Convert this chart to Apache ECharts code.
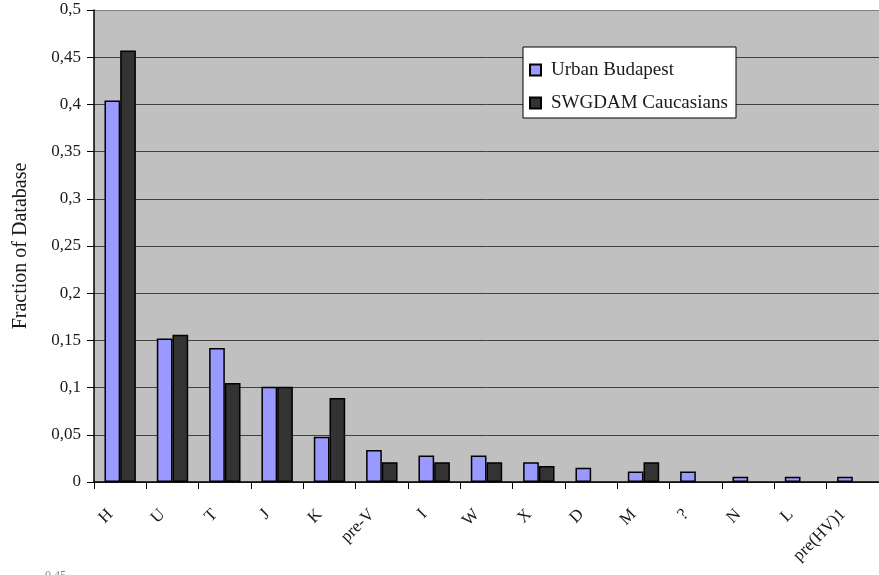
<!DOCTYPE html>
<html>
<head>
<meta charset="utf-8">
<script src="https://cdn.jsdelivr.net/npm/echarts@6/dist/echarts.min.js"></script>
<style>
  html, body { margin: 0; padding: 0; background: #ffffff; }
  #chart { width: 879px; height: 575px; }
</style>
</head>
<body>
<div id="chart"></div>
<script>
// Haplogroup frequencies in two mtDNA databases
const haplogroups = ['H', 'U', 'T', 'J', 'K', 'pre-V', 'I', 'W', 'X', 'D', 'M', '?', 'N', 'L', 'pre(HV)1'];
const urbanBudapest = [0.404, 0.152, 0.142, 0.101, 0.048, 0.034, 0.028, 0.028, 0.021, 0.015, 0.011, 0.011, 0.0055, 0.0055, 0.0055];
const swgdamCaucasians = [0.457, 0.156, 0.105, 0.101, 0.089, 0.021, 0.021, 0.021, 0.017, null, 0.021, null, null, null, null];
const seriesNames = ['Urban Budapest', 'SWGDAM Caucasians'];
const yAxisTitle = 'Fraction of Database';

const serif = '"Liberation Serif", "Times New Roman", serif';

function commaDecimal(v) {
  const r = Math.round(v * 100) / 100;
  return String(r).replace('.', ',');
}

const chart = echarts.init(document.getElementById('chart'), null, { renderer: 'canvas' });

// gridlines: dark inside the plot, lighter at the top border
const splitColors = ['#404040', '#404040', '#404040', '#404040', '#404040',
                     '#404040', '#404040', '#404040', '#404040', '#404040', '#808080'];

chart.setOption({
  animation: false,
  backgroundColor: '#ffffff',
  grid: {
    left: 94, right: 0, top: 10, bottom: 93,
    show: true, backgroundColor: '#c0c0c0', borderWidth: 0,
    containLabel: false
  },
  legend: {
    data: seriesNames,
    orient: 'vertical',
    left: 523, top: 47,
    backgroundColor: '#ffffff',
    borderColor: '#000000', borderWidth: 1,
    padding: [13, 5, 5, 6],
    itemGap: 13,
    itemWidth: 11, itemHeight: 11,
    icon: 'rect',
    selectedMode: false,
    textStyle: {
      fontFamily: serif, fontSize: 19, color: '#1a1a1a',
      lineHeight: 20, width: 180, padding: [0, 0, 0, 5]
    }
  },
  xAxis: {
    type: 'category',
    data: haplogroups,
    axisLine: { lineStyle: { color: '#000000', width: 1.5 } },
    axisTick: { show: true, length: 7, lineStyle: { color: '#000000', width: 1 } },
    axisLabel: {
      rotate: 45, interval: 0, margin: 20,
      fontFamily: serif, fontSize: 17, color: '#1a1a1a',
      padding: [0, 14, 0, 0]
    }
  },
  yAxis: {
    type: 'value',
    min: 0, max: 0.5, interval: 0.05,
    name: yAxisTitle,
    nameLocation: 'middle',
    nameGap: 63,
    nameRotate: 90,
    nameTextStyle: { fontFamily: serif, fontSize: 20, color: '#1a1a1a' },
    axisLine: { show: true, lineStyle: { color: '#000000', width: 1.5 } },
    axisTick: { show: true, length: 7, lineStyle: { color: '#000000', width: 1 } },
    axisLabel: {
      margin: 13, fontFamily: serif, fontSize: 17, color: '#1a1a1a',
      formatter: commaDecimal
    },
    splitLine: { show: true, lineStyle: { color: splitColors, width: 1 } }
  },
  series: [
    {
      name: seriesNames[0], type: 'bar', data: urbanBudapest,
      barGap: '0%', barCategoryGap: '40%',
      itemStyle: { color: '#9999ff', borderColor: '#000000', borderWidth: 1.5 }
    },
    {
      name: seriesNames[1], type: 'bar', data: swgdamCaucasians,
      itemStyle: { color: '#333333', borderColor: '#000000', borderWidth: 1.5 }
    }
  ],
  graphic: [
    {
      type: 'text', left: 45, top: 570,
      style: { text: '0,45', font: '12px ' + serif, fill: '#8a8a8a' }
    }
  ]
});
</script>
</body>
</html>
